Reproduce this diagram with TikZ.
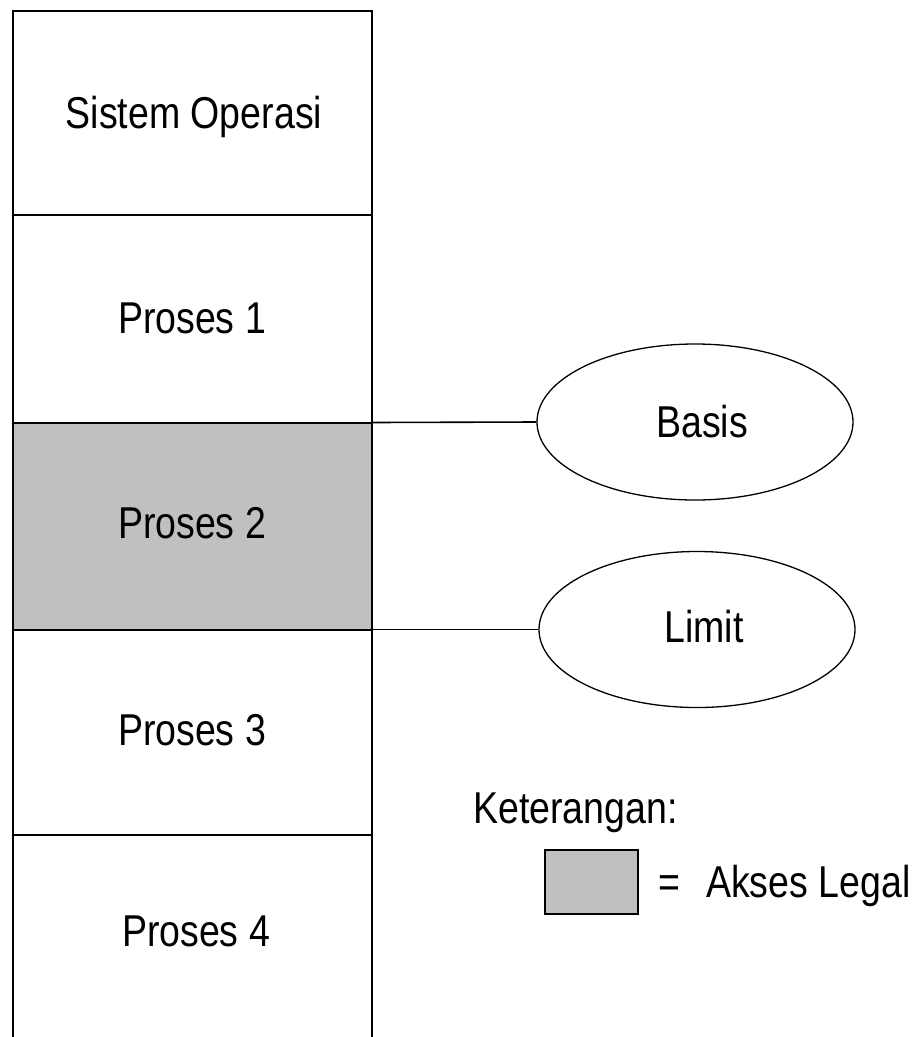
\documentclass[tikz,border=0pt]{standalone}
\usepackage{fontspec}
\usepackage{graphicx}
\setmainfont{Liberation Sans}
\usetikzlibrary{shapes.geometric}
\definecolor{legal}{RGB}{192,193,190}
\newcommand{\tall}[1]{\scalebox{1}[1.19]{#1}}
\begin{document}
\begin{tikzpicture}[x=1pt,y=-1pt,
  cell/.style={draw=black, line width=2pt, minimum width=359.5pt, inner sep=0pt, outer sep=0pt},
  lbl/.style={font=\fontsize{37.5}{45}\selectfont, inner sep=0pt, anchor=base},
  memo/.style={ellipse, draw=black, line width=1.3pt, minimum width=316pt, minimum height=156pt, inner sep=0pt},
  link/.style={draw=black, line width=1.6pt}]
\useasboundingbox (0,0) rectangle (916,1037);
\clip (0,0) rectangle (916,1037);
\fill[white] (0,0) rectangle (916,1037);

% memory column
\node[cell, minimum height=204.5pt] (os) at (192.25,112.75) {};
\node[cell, minimum height=207.5pt] (p1) at (192.25,318.75) {};
\node[cell, minimum height=207pt, fill=legal] (p2) at (192.25,526) {};
\node[cell, minimum height=205.5pt] (p3) at (192.25,732.25) {};
\node[cell, minimum height=260pt] (p4) at (192.25,965) {};

\node[lbl] (tos) at (194,128) {\tall{Sistem Operasi}};
\node[lbl] (tp1) at (192,333) {\tall{Proses 1}};
\node[lbl] (tp2) at (192,538) {\tall{Proses 2}};
\node[lbl] (tp3) at (192,745) {\tall{Proses 3}};
\node[lbl] (tp4) at (196,946) {\tall{Proses 4}};

% base and limit registers
\node[memo] (basis) at (695,422) {};
\node[memo] (limit) at (697,629.5) {};
\node[lbl] (tbasis) at (702,437) {\tall{Basis}};
\node[lbl] (tlimit) at (704,642) {\tall{Limit}};

\draw[link] (p2.north east) -- (basis.west);
\draw[link] (p2.south east) -- (limit.west);

% legend
\node[lbl, anchor=base west] (ket) at (473,823) {\tall{Keterangan:}};
\node[draw=black, fill=legal, line width=1.4pt, minimum width=93pt, minimum height=64pt, inner sep=0pt] (key) at (591.5,882) {};
\node[lbl, anchor=base west] (eq) at (658,897) {\tall{=}};
\node[lbl, anchor=base west] (akses) at (706,897) {\tall{Akses Legal}};
\end{tikzpicture}
\end{document}
